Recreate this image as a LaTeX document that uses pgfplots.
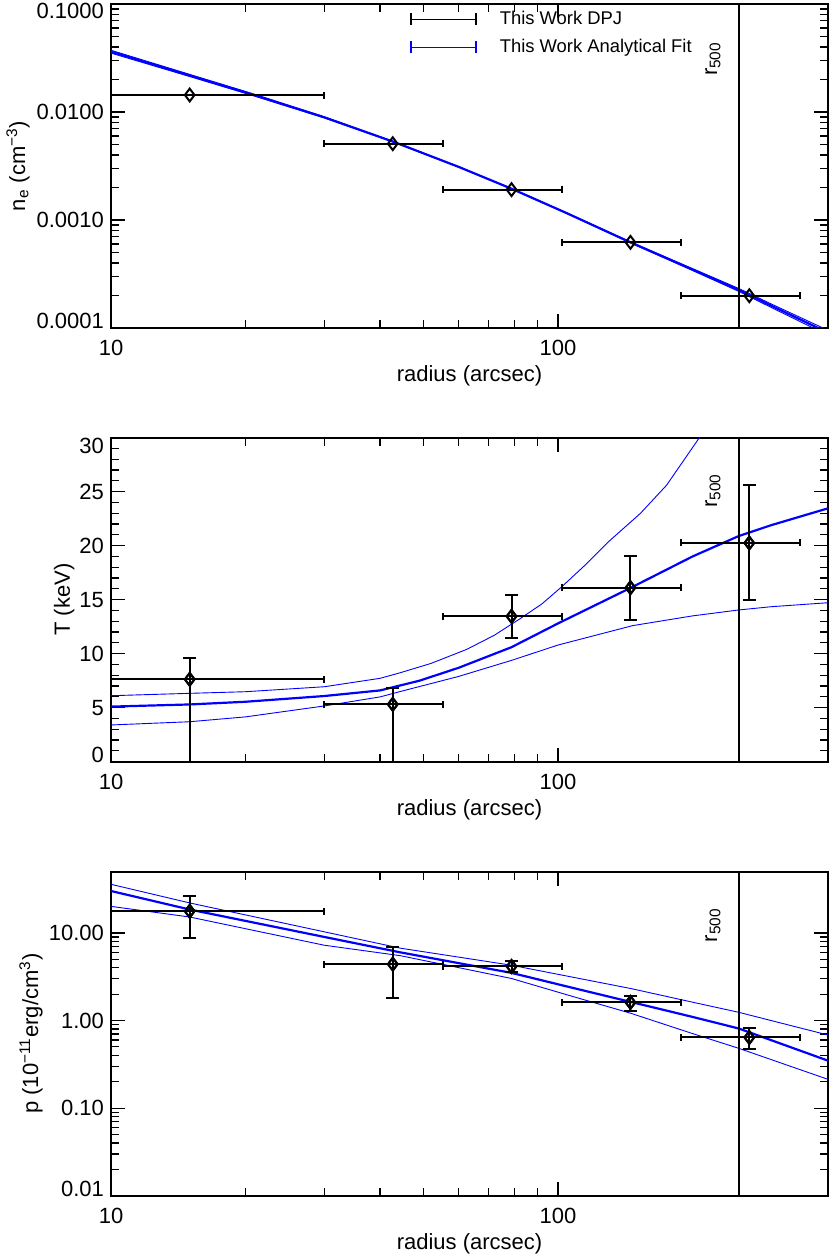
\documentclass[border=0pt]{standalone}
\usepackage{fontspec}
\setmainfont{Liberation Sans}
\usepackage{pgfplots}
\pgfplotsset{compat=1.18}

% end tick labels are pulled inward, as in the original IDL plot
\newcommand{\lo}[1]{\smash{\raisebox{-0.4pt}{#1}}}
\newcommand{\hi}[1]{\smash{\raisebox{-7.3pt}{#1}}}

\begin{document}
\begin{tikzpicture}
\useasboundingbox (-55.5pt,-29.15pt) rectangle (359.5pt,597.85pt);

% ---------- electron density ----------
\begin{axis}[scale only axis, width=358.5pt, height=162pt,
  at={(0pt,433.85pt)}, anchor=south west,
  xmode=log, xmin=10, xmax=402, xtick={10,100}, xticklabels={10,100},
  ymode=log, ymin=0.0001, ymax=0.1,
  ytick={0.0001,0.001,0.01,0.1},
  yticklabels={\lo{0.0001},0.0010,0.0100,\hi{0.1000}},
  tick align=inside, major tick length=7pt, minor tick length=4pt,
  axis line style={line width=0.9pt},
  tick style={black, line width=0.6pt},
  ticklabel style={font=\fontsize{11}{13}\selectfont},
  xticklabel style={anchor=base, yshift=-13.7pt},
  xlabel={radius (arcsec)},
  xlabel style={font=\fontsize{11}{13}\selectfont, at={(axis description cs:0.5,0)}, anchor=base, yshift=-27pt},
  ylabel={n\textsubscript{e} (cm\textsuperscript{−3})},
  every axis y label/.style={font=\fontsize{11}{13}\selectfont, at={(axis description cs:-0.1199,0.5)}, rotate=90, anchor=base},
  legend style={at={(0.417,0.988)}, anchor=north west, draw=none, fill=none, inner sep=0pt,
    font=\fontsize{9.2}{11}\selectfont, row sep=3pt,
    nodes={inner sep=1pt, text height=7pt, text depth=2pt}},
  legend cell align=left]
\addlegendimage{black, line width=0.7pt, legend image code/.code={
    \draw (0pt,0pt)--(32.5pt,0pt);
    \draw (0pt,-3pt)--(0pt,3pt) (32.5pt,-3pt)--(32.5pt,3pt);
    \path (43pt,0pt);}}
\addlegendentry{This Work DPJ}
\addlegendimage{blue, line width=0.7pt, legend image code/.code={
    \draw (0pt,0pt)--(32.5pt,0pt);
    \draw (0pt,-3pt)--(0pt,3pt) (32.5pt,-3pt)--(32.5pt,3pt);
    \path (43pt,0pt);}}
\addlegendentry{This Work Analytical Fit}
\addplot[blue, line width=0.45pt, mark=none, forget plot] coordinates {(10,0.0373) (15,0.0223) (20.8,0.01474) (30,0.00904) (42.8,0.00534) (60,0.00311) (78.7,0.001956) (104.5,0.001167) (145.5,0.000626) (200,0.000355) (254,0.000232) (300,0.000167) (382,0.000105) (402,0.0000953)};
\addplot[blue, line width=0.45pt, mark=none, forget plot] coordinates {(10,0.0351) (15,0.0213) (20.8,0.01416) (30,0.00882) (42.8,0.00528) (60,0.00309) (78.7,0.001944) (104.5,0.001153) (145.5,0.000612) (200,0.000341) (254,0.000218) (300,0.000155) (382,0.000095) (402,0.0000853)};
\addplot[blue, line width=1.1pt, mark=none, forget plot] coordinates {(10,0.0362) (15,0.0218) (20.8,0.01445) (30,0.00893) (42.8,0.00531) (60,0.00310) (78.7,0.00195) (104.5,0.00116) (145.5,0.000619) (200,0.000348) (254,0.000225) (300,0.000161) (382,0.0001) (402,0.0000903)};
\addplot[black, only marks, mark=diamond, mark size=3.2pt, forget plot,
  mark options={line width=1pt},
  error bars/.cd, x dir=both, x explicit, error mark=|,
  error mark options={black, line width=1pt, mark size=1.75pt},
  error bar style={line width=1pt}]
  coordinates {(15,0.01436) +- (14.9,0) (42.7,0.00509) +- (12.7,0) (78.75,0.00191) +- (23.45,0) (145.3,0.000621) +- (43.1,0) (268,0.000199) +- (79.6,0)};
\addplot[black, line width=0.7pt, mark=none, forget plot] coordinates {(254,0.00001) (254,1)};
\node[xshift=-9pt, rotate=90, anchor=south, inner sep=0pt, font=\fontsize{11}{13}\selectfont]
  at (axis cs:254,0.031) {r\textsubscript{500}};
\end{axis}

% ---------- temperature ----------
\begin{axis}[scale only axis, width=358.5pt, height=162pt,
  at={(0pt,217pt)}, anchor=south west,
  xmode=log, xmin=10, xmax=402, xtick={10,100}, xticklabels={10,100},
  ymin=0, ymax=30, ytick={0,5,10,15,20,25,30}, minor y tick num=4,
  yticklabels={\lo{0},5,10,15,20,25,\smash{\raisebox{-7.9pt}{30}}},
  tick align=inside, major tick length=7pt, minor tick length=4pt,
  axis line style={line width=0.9pt},
  tick style={black, line width=0.6pt},
  ticklabel style={font=\fontsize{11}{13}\selectfont},
  xticklabel style={anchor=base, yshift=-13.7pt},
  xlabel={radius (arcsec)},
  xlabel style={font=\fontsize{11}{13}\selectfont, at={(axis description cs:0.5,0)}, anchor=base, yshift=-27pt},
  ylabel={T (keV)},
  every axis y label/.style={font=\fontsize{11}{13}\selectfont, at={(axis description cs:-0.0572,0.5)}, rotate=90, anchor=base}]
\addplot[blue, line width=0.45pt, mark=none] coordinates {(10,6.11) (15,6.33) (20,6.48) (30,6.94) (40,7.72) (44.4,8.24) (52,9.1) (62.5,10.4) (72,11.7) (82,13.2) (92,14.6) (102,16.2) (115,18.2) (130,20.4) (153,23.0) (175,25.6) (208,30.1) (220,31.8)};
\addplot[blue, line width=0.45pt, mark=none] coordinates {(10,3.4) (15,3.7) (20,4.15) (30,5.16) (40,6.0) (44.4,6.5) (60,7.9) (79,9.4) (100,10.8) (147,12.6) (200,13.5) (254,14.05) (300,14.35) (402,14.72)};
\addplot[blue, line width=1.1pt, mark=none] coordinates {(10,5.1) (15,5.3) (20,5.55) (30,6.08) (40,6.6) (49,7.5) (60,8.7) (78.7,10.6) (100,12.8) (145.5,16.1) (200,19.0) (254,20.9) (300,21.9) (402,23.46)};
\addplot[black, only marks, mark=diamond, mark size=3.2pt,
  mark options={line width=1pt},
  error bars/.cd, x dir=both, x explicit, error mark=|,
  error mark options={black, line width=1pt, mark size=1.75pt},
  error bar style={line width=1pt}]
  coordinates {(15,7.63) +- (14.9,0) (42.7,5.31) +- (12.7,0) (78.75,13.46) +- (23.45,0) (145.3,16.11) +- (43.1,0) (268,20.25) +- (79.6,0)};
\addplot[black, only marks, mark=diamond, mark size=3.2pt,
  mark options={line width=1pt},
  error bars/.cd, y dir=both, y explicit, error mark=|,
  error mark options={black, line width=1pt, mark size=3.25pt},
  error bar style={line width=1pt}]
  coordinates {(15,7.63) += (0,2.0) -= (0,9) (42.7,5.31) += (0,1.54) -= (0,7) (78.75,13.46) += (0,2.01) -= (0,2.01) (145.3,16.11) += (0,2.94) -= (0,2.99) (268,20.25) += (0,5.35) -= (0,5.28)};
\addplot[black, line width=0.7pt, mark=none] coordinates {(254,-5) (254,40)};
\node[xshift=-9pt, rotate=90, anchor=south, inner sep=0pt, font=\fontsize{11}{13}\selectfont]
  at (axis cs:254,25.1) {r\textsubscript{500}};
\end{axis}

% ---------- pressure ----------
\begin{axis}[scale only axis, width=358.5pt, height=162pt,
  at={(0pt,0pt)}, anchor=south west,
  xmode=log, xmin=10, xmax=402, xtick={10,100}, xticklabels={10,100},
  ymode=log, ymin=0.01, ymax=50,
  ytick={0.01,0.1,1,10},
  yticklabels={\lo{0.01},0.10,1.00,10.00},
  tick align=inside, major tick length=7pt, minor tick length=4pt,
  axis line style={line width=0.9pt},
  tick style={black, line width=0.6pt},
  ticklabel style={font=\fontsize{11}{13}\selectfont},
  xticklabel style={anchor=base, yshift=-13.7pt},
  xlabel={radius (arcsec)},
  xlabel style={font=\fontsize{11}{13}\selectfont, at={(axis description cs:0.5,0)}, anchor=base, yshift=-27pt},
  ylabel={p (10\textsuperscript{−11}erg/cm\textsuperscript{3})},
  every axis y label/.style={font=\fontsize{11}{13}\selectfont, at={(axis description cs:-0.1018,0.5)}, rotate=90, anchor=base}]
\addplot[blue, line width=0.45pt, mark=none] coordinates {(10,35.9) (15,22.0) (30,10.3) (44.4,6.7) (78.7,4.28) (105,3.21) (145.5,2.32) (200,1.62) (254,1.24) (402,0.683)};
\addplot[blue, line width=0.45pt, mark=none] coordinates {(10,20.1) (15,15.2) (30,7.24) (44.4,5.5) (78.7,3.02) (105,1.96) (145.5,1.21) (200,0.71) (254,0.481) (402,0.213)};
\addplot[blue, line width=1.1pt, mark=none] coordinates {(10,30.1) (15,18.5) (30,9.0) (44.4,6.0) (78.7,3.5) (105,2.44) (145.5,1.63) (200,1.10) (254,0.81) (402,0.348)};
\addplot[black, only marks, mark=diamond, mark size=3.2pt,
  mark options={line width=1pt},
  error bars/.cd, x dir=both, x explicit, error mark=|,
  error mark options={black, line width=1pt, mark size=1.75pt},
  error bar style={line width=1pt}]
  coordinates {(15,17.7) +- (14.9,0) (42.7,4.40) +- (12.7,0) (78.75,4.14) +- (23.45,0) (145.3,1.61) +- (43.1,0) (268,0.641) +- (79.6,0)};
\addplot[black, only marks, mark=diamond, mark size=3.2pt,
  mark options={line width=1pt},
  error bars/.cd, y dir=both, y explicit, error mark=|,
  error mark options={black, line width=1pt, mark size=3.25pt},
  error bar style={line width=1pt}]
  coordinates {(15,17.7) += (0,9.0) -= (0,8.93) (42.7,4.40) += (0,2.52) -= (0,2.57) (78.75,4.14) += (0,0.61) -= (0,0.57) (145.3,1.61) += (0,0.29) -= (0,0.31) (268,0.641) += (0,0.172) -= (0,0.169)};
\addplot[black, line width=0.7pt, mark=none] coordinates {(254,0.001) (254,1000)};
\node[xshift=-9pt, rotate=90, anchor=south, inner sep=0pt, font=\fontsize{11}{13}\selectfont]
  at (axis cs:254,12.3) {r\textsubscript{500}};
\end{axis}
\end{tikzpicture}
\end{document}
